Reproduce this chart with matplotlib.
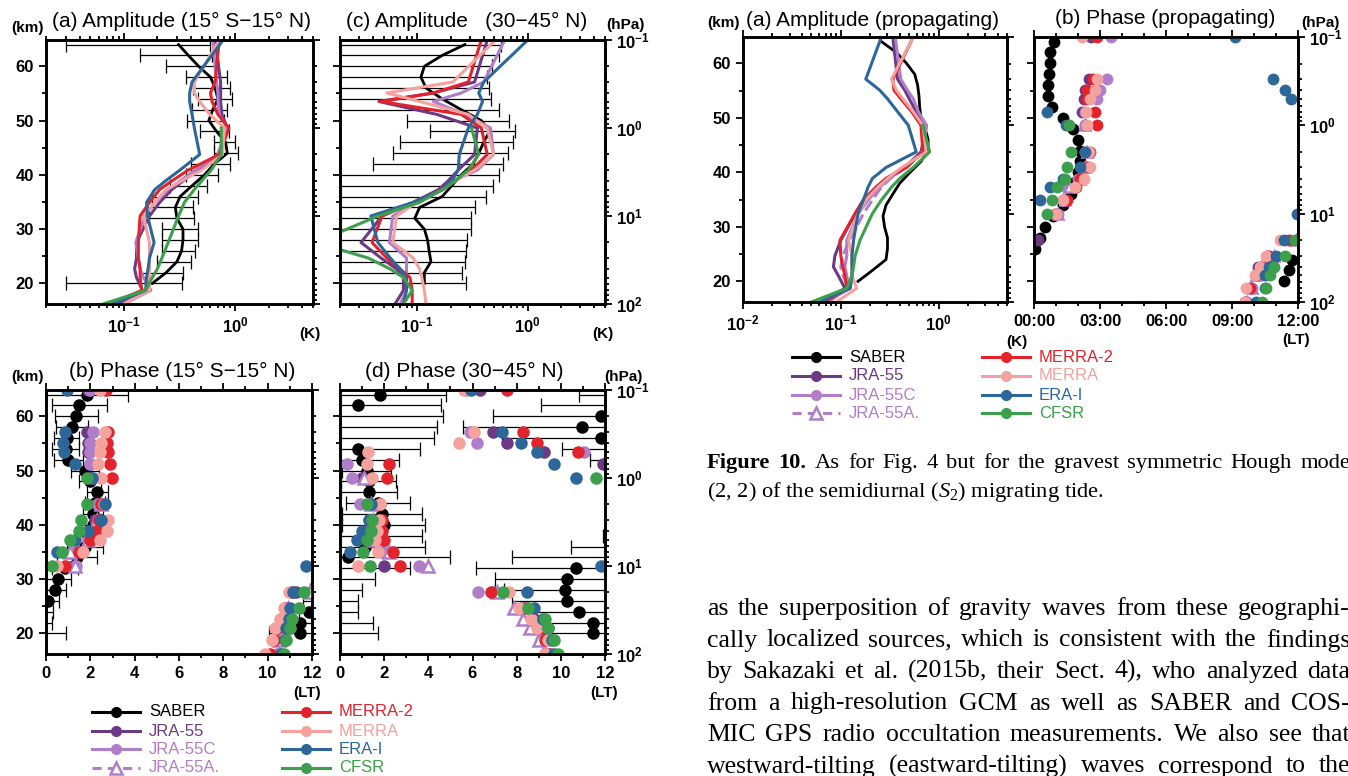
import numpy as np
import matplotlib
matplotlib.use("Agg")
import matplotlib.pyplot as plt
from matplotlib.ticker import LogLocator, NullFormatter, FuncFormatter, MultipleLocator

plt.rcParams["font.family"] = ["Liberation Sans", "DejaVu Sans"]
plt.rcParams["mathtext.fontset"] = "custom"
plt.rcParams["mathtext.rm"] = "Liberation Sans"
plt.rcParams["mathtext.bf"] = "Liberation Sans:bold"
plt.rcParams["mathtext.it"] = "Liberation Serif:italic"

W, HPX = 1348, 776
H_SCALE = 7.04  # km, scale height used for log-pressure altitude

# reanalysis pressure levels (hPa), bottom to top
p_lev = np.array([100, 70, 50, 40, 30, 20, 10, 7, 5, 4, 3, 2, 1, 0.7, 0.5, 0.4, 0.3, 0.1])
z_lev = H_SCALE * np.log(1000.0 / p_lev)
saber_km = np.array([20, 22, 24, 26, 28, 30, 32, 34, 36, 38, 40, 42,
                     44, 46, 48, 50, 52, 54, 56, 58, 60, 62, 64])

names = ["JRA-55", "JRA-55C", "JRA-55A.", "MERRA-2", "MERRA", "ERA-I", "CFSR"]
colors = {"SABER": "black", "JRA-55": "#6c3a85", "JRA-55C": "#b07dc9",
          "JRA-55A.": "#b07dc9", "MERRA-2": "#e3232b", "MERRA": "#f5a19e",
          "ERA-I": "#2d6799", "CFSR": "#3b9f4b"}
nan = np.nan

# ---- (a) amplitude 15S-15N (K)
amp_eq = {
    "JRA-55":  [0.088, 0.147, 0.13, 0.125, 0.13, 0.13, 0.17, 0.21, 0.27, 0.34, 0.46, 0.70, 0.85, 0.76, 0.74, 0.74, 0.74, 0.66],
    "JRA-55C": [0.10, 0.175, 0.15, 0.14, 0.135, 0.128, 0.155, 0.19, 0.25, 0.32, 0.44, 0.70, 0.85, 0.72, 0.70, 0.70, 0.68, 0.63],
    "MERRA-2": [0.075, 0.145, 0.14, 0.14, 0.135, 0.135, 0.14, 0.17, 0.21, 0.27, 0.38, 0.72, 0.88, 0.70, 0.62, 0.60, 0.66, 0.72],
    "MERRA":   [0.10, 0.17, 0.17, 0.17, 0.17, 0.17, 0.15, 0.19, 0.24, 0.33, 0.50, 0.77, 0.80, 0.59, 0.48, 0.43, 0.43, 0.72],
    "ERA-I":   [0.08, 0.157, 0.16, 0.165, 0.17, 0.187, 0.163, 0.16, 0.19, 0.236, 0.32, 0.48, 0.43, 0.41, 0.39, 0.39, 0.41, 0.78],
    "CFSR":    [0.065, 0.157, 0.18, 0.20, 0.22, 0.25, 0.31, 0.35, 0.43, 0.50, 0.61, 0.75, 0.75, nan, nan, nan, nan, nan],
}
saber_amp_eq = [0.18, 0.24, 0.30, 0.33, 0.34, 0.34, 0.30, 0.29, 0.32, 0.41, 0.53, 0.65,
                0.85, 0.82, 0.68, 0.58, 0.63, 0.70, 0.66, 0.60, 0.47, 0.38, 0.31]
saber_amp_eq_err = [0.15, 0.10, 0.10, 0.11, 0.12, 0.12, 0.13, 0.13, 0.14, 0.15, 0.17, 0.25,
                    0.20, 0.17, 0.20, 0.21, 0.22, 0.24, 0.24, 0.24, 0.23, 0.24, 0.28]

# ---- (c) amplitude 30-45N (K)
amp_mid = {
    "JRA-55":  [0.063, 0.075, 0.075, 0.065, 0.047, 0.031, 0.048, 0.092, 0.156, 0.19, 0.235, 0.33, 0.35, 0.15, 0.045, 0.14, 0.33, 0.43],
    "JRA-55C": [0.07, 0.08, 0.08, 0.08, 0.08, 0.056, 0.06, 0.10, 0.17, 0.21, 0.35, 0.49, 0.46, 0.27, 0.14, 0.25, 0.40, 0.62],
    "MERRA-2": [0.09, 0.09, 0.086, 0.07, 0.053, 0.039, 0.048, 0.092, 0.168, 0.22, 0.31, 0.43, 0.38, 0.25, 0.047, 0.14, 0.29, 0.38],
    "MERRA":   [0.12, 0.116, 0.11, 0.105, 0.092, 0.06, 0.065, 0.098, 0.17, 0.22, 0.33, 0.49, 0.43, 0.29, 0.105, 0.053, 0.21, 0.51],
    "ERA-I":   [0.075, 0.08, 0.08, 0.07, 0.057, 0.044, 0.038, 0.092, 0.17, 0.205, 0.235, 0.24, 0.29, 0.35, 0.39, 0.36, 0.40, 1.0],
    "CFSR":    [0.075, 0.09, 0.075, 0.057, 0.036, 0.012, 0.044, 0.105, 0.17, 0.22, 0.29, 0.36, 0.31, nan, nan, nan, nan, nan],
}
saber_amp_mid = [0.116, 0.116, 0.133, 0.128, 0.124, 0.116, 0.095, 0.105, 0.168, 0.205, 0.25, 0.32,
                 0.36, 0.40, 0.45, 0.38, 0.25, 0.168, 0.12, 0.108, 0.116, 0.168, 0.27]
saber_amp_mid_err = [0.16, 0.14, 0.14, 0.15, 0.16, 0.19, 0.21, 0.23, 0.25, 0.28, 0.30, 0.28,
                     0.30, 0.33, 0.32, 0.30, 0.30, 0.30, 0.33, 0.32, 0.36, 0.38, 0.30]

# ---- (b) phase 15S-15N (LT)
phase_eq = {
    "JRA-55":   [10.5, 10.6, 10.7, 10.8, 10.9, 11.3, 1.2, 1.6, 2.0, 2.1, 2.2, 2.3, 2.0, 2.0, 1.9, 1.9, 1.87, 1.9],
    "JRA-55C":  [10.4, 10.5, 10.6, 10.7, 10.8, 11.9, 1.36, 1.2, 1.9, 2.1, 2.36, 2.36, 2.1, 2.0, 2.0, 2.0, 2.14, 2.0],
    "JRA-55A.": [10.5, 10.5, 10.7, 10.8, 10.9, 11.9, 1.3, 1.1, 1.9, 2.1, 2.3, 2.5, nan, nan, nan, nan, nan, nan],
    "MERRA-2":  [10.12, 10.27, 10.4, 10.6, 10.8, 11.1, 0.86, 1.5, 2.0, 2.3, 2.4, 2.5, 2.97, 2.9, 2.8, 2.77, 2.8, 2.7],
    "MERRA":    [9.9, 10.2, 10.35, 10.57, 10.72, 10.95, 0.48, 1.68, 2.44, 2.74, 2.8, 2.6, 2.5, 2.36, 2.44, 2.5, 2.67, 2.44],
    "ERA-I":    [10.6, 10.8, 10.84, 10.95, 11.0, 11.14, 11.75, 0.51, 1.3, 1.9, 2.5, 2.67, 2.06, 1.3, 0.81, 0.78, 0.86, 0.93],
    "CFSR":     [10.72, 10.84, 11.0, 11.1, 11.4, 11.63, 0.26, 0.7, 1.08, 1.5, 1.6, 1.87, 1.87, nan, nan, nan, nan, nan],
}
saber_phase_eq = [11.48, 11.48, 11.85, 0.1, 0.4, 0.56, 0.85, 1.38, 1.76, 1.9, 2.1, 2.14,
                  2.2, 2.32, 2.0, 1.76, 1.0, 0.88, 0.93, 1.16, 1.36, 1.5, 1.87]
saber_phase_eq_err = [1.4, 0.77, 0.45, 0.5, 0.5, 0.55, 0.6, 0.9, 0.8, 0.6, 0.5, 0.45,
                      0.45, 0.47, 0.5, 0.65, 0.65, 0.6, 0.55, 0.73, 0.97, 1.25, 1.85]

# ---- (d) phase 30-45N (LT)
phase_mid = {
    "JRA-55":   [9.3, 9.2, 9.0, 8.7, 8.3, 7.0, 2.0, 1.94, 1.5, 1.4, 1.5, 1.3, 1.0, 11.9, 9.24, 7.57, 6.94, 6.36],
    "JRA-55C":  [9.4, 9.1, 8.9, 8.7, 8.2, 6.24, 3.56, 2.1, 1.4, 1.2, 1.3, 0.9, 0.53, 0.3, 11.06, 6.2, 5.9, 5.7],
    "JRA-55A.": [9.2, 9.0, 8.6, 8.3, 7.9, 7.1, 4.0, 2.2, 1.5, 1.3, 1.5, 1.4, 1.1, nan, nan, nan, nan, nan],
    "MERRA-2":  [9.5, 9.3, 9.1, 8.8, 8.4, 6.85, 2.7, 2.42, 1.97, 1.9, 1.9, 1.8, 2.15, 2.24, 10.76, 8.94, 8.3, 7.55],
    "MERRA":    [9.3, 9.4, 8.94, 8.64, 8.1, 7.65, 0.83, 1.7, 1.6, 1.67, 1.75, 1.79, 1.44, 1.2, 1.29, 5.38, 6.06, 5.6],
    "ERA-I":    [9.67, 9.6, 9.4, 9.17, 8.8, 8.48, 11.8, 0.45, 0.76, 0.98, 1.3, 1.4, 10.7, 9.67, 8.9, 8.2, 7.35, 5.94],
    "CFSR":     [9.85, 9.7, 9.44, 9.3, 8.5, 7.38, 1.36, 1.06, 1.24, 1.4, 1.44, 1.24, 11.6, nan, nan, nan, nan, nan],
}
saber_phase_mid = [11.44, 11.44, 10.83, 10.3, 10.2, 10.3, 10.68, 0.38, 1.14, 1.8, 1.97, 1.9,
                   1.7, 1.33, 1.3, 1.2, 0.98, 0.83, 11.8, 10.98, 11.8, 0.83, 1.8]
saber_phase_mid_err = [2.27, 2.04, 1.97, 2.53, 2.78, 3.3, 4.5, 4.6, 2.7, 1.9, 1.9, 1.8,
                       1.45, 1.27, 1.25, 1.1, 1.67, 2.77, 4.47, 5.41, 4.87, 3.75, 3.0]

# ---- Fig. 10 (a) amplitude, propagating (K)
amp_prop = {
    "JRA-55":   [0.064, 0.11, 0.094, 0.084, 0.087, 0.10, 0.14, 0.17, 0.23, 0.29, 0.45, 0.66, 0.75, 0.59, 0.50, 0.45, 0.38, 0.34],
    "JRA-55C":  [0.074, 0.12, 0.115, 0.11, 0.115, 0.115, 0.15, 0.19, 0.25, 0.31, 0.46, 0.70, 0.75, 0.62, 0.55, 0.48, 0.41, 0.36],
    "JRA-55A.": [0.07, 0.124, 0.105, 0.10, 0.105, 0.122, 0.17, 0.21, 0.26, 0.32, 0.46, 0.68, 0.74, nan, nan, nan, nan, nan],
    "MERRA-2":  [0.069, 0.115, 0.11, 0.105, 0.10, 0.098, 0.14, 0.17, 0.23, 0.29, 0.47, 0.69, 0.66, 0.53, 0.41, 0.35, 0.34, 0.55],
    "MERRA":    [0.09, 0.145, 0.13, 0.13, 0.13, 0.12, 0.15, 0.18, 0.24, 0.30, 0.42, 0.75, 0.69, 0.55, 0.43, 0.37, 0.33, 0.55],
    "ERA-I":    [0.061, 0.125, 0.13, 0.13, 0.13, 0.135, 0.15, 0.17, 0.19, 0.21, 0.29, 0.59, 0.49, 0.38, 0.30, 0.25, 0.18, 0.26],
    "CFSR":     [0.05, 0.115, 0.13, 0.135, 0.14, 0.157, 0.21, 0.26, 0.33, 0.40, 0.55, 0.81, 0.69, nan, nan, nan, nan, nan],
}
saber_amp_prop = [0.15, 0.21, 0.29, 0.30, 0.30, 0.28, 0.27, 0.29, 0.34, 0.40, 0.51, 0.66,
                  0.78, 0.78, 0.73, 0.66, 0.64, 0.63, 0.61, 0.57, 0.47, 0.37, 0.26]

# ---- Fig. 10 (b) phase, propagating (LT)
phase_prop = {
    "JRA-55":   [9.6, 9.8, 10.2, 10.2, 10.6, 0.18, 1.0, 1.3, 1.5, 2.0, 2.3, 2.4, 2.3, 2.2, 2.26, 2.3, 2.5, 2.6],
    "JRA-55C":  [9.7, 9.9, 10.1, 10.3, 10.6, 11.95, 1.09, 1.3, 1.47, 2.0, 2.4, 2.3, 2.3, 2.3, 2.86, 3.0, 3.32, 3.5],
    "JRA-55A.": [9.7, 9.9, 10.1, 10.3, 10.9, 11.9, 1.1, 1.4, 1.6, 2.1, 2.3, 2.4, 2.3, nan, nan, nan, nan, nan],
    "MERRA-2":  [9.6, 9.83, 10.1, 10.4, 10.7, 11.6, 0.94, 1.5, 1.9, 2.08, 2.45, 2.56, 2.86, 2.76, 2.4, 2.4, 2.7, 2.86],
    "MERRA":    [9.58, 9.62, 10.03, 10.26, 10.56, 11.17, 1.0, 1.32, 1.88, 2.26, 2.53, 2.5, 2.41, 2.35, 2.56, 2.76, 2.86, 2.2],
    "ERA-I":    [10.1, 10.48, 10.48, 10.68, 10.98, 11.35, 11.95, 0.29, 0.71, 1.32, 2.1, 2.3, 1.47, 0.59, 11.7, 11.4, 10.86, 9.15],
    "CFSR":     [10.36, 10.56, 10.71, 10.9, 11.4, 11.85, 0.59, 0.82, 1.05, 1.4, 1.5, 1.7, 1.58, nan, nan, nan, nan, nan],
}
saber_phase_prop = [11.36, 11.6, 11.74, 0.06, 0.29, 0.48, 0.85, 1.3, 1.67, 1.77, 2.0, 2.08,
                    2.08, 2.0, 1.77, 1.32, 0.83, 0.65, 0.65, 0.68, 0.74, 0.74, 0.91]

body_lines = [
    "as the superposition of gravity waves from these geographi-",
    "cally localized sources, which is consistent with the findings",
    "by Sakazaki et al. (2015b, their Sect. 4), who analyzed data",
    "from a high-resolution GCM as well as SABER and COS-",
    "MIC GPS radio occultation measurements. We also see that",
    "westward-tilting (eastward-tilting) waves correspond to the",
]

fig = plt.figure(figsize=(W / 100, HPX / 100), dpi=100)


def box(x0, y0, x1, y1):
    return [x0 / W, 1 - y1 / HPX, (x1 - x0) / W, (y1 - y0) / HPX]


def bold_pow(v, pos):
    return r"$\mathbf{10^{%d}}$" % round(np.log10(v))


def setup(ax, kind, left_lab, right_lab, xmin=0.02):
    ax.set_ylim(z_lev[0], z_lev[-1])
    ticks = [20, 30, 40, 50, 60]
    ax.set_yticks(ticks, [str(t) for t in ticks] if left_lab else [],
                  fontsize=12, fontweight="bold")
    ax.set_yticks([25, 35, 45, 55], minor=True)
    if kind == "amp":
        ax.set_xscale("log")
        ax.set_xlim(xmin, 5)
        ax.xaxis.set_major_locator(LogLocator(base=10))
        ax.xaxis.set_minor_locator(LogLocator(base=10, subs=np.arange(2, 10)))
        ax.xaxis.set_major_formatter(FuncFormatter(bold_pow))
        ax.xaxis.set_minor_formatter(NullFormatter())
        ax.tick_params(axis="x", labelsize=12, pad=3)
    elif kind == "lt":
        ax.set_xlim(0, 12)
        xt = [0, 3, 6, 9, 12]
        ax.set_xticks(xt, ["%02d:00" % t for t in xt], fontsize=12, fontweight="bold")
        ax.xaxis.set_minor_locator(MultipleLocator(1))
    else:
        ax.set_xlim(0, 12)
        xt = [0, 2, 4, 6, 8, 10, 12]
        ax.set_xticks(xt, [str(t) for t in xt], fontsize=12, fontweight="bold")
        ax.xaxis.set_minor_locator(MultipleLocator(1))
    ax.tick_params(which="both", direction="out", width=1.3, top=True, right=False)
    ax.tick_params(which="major", length=5)
    ax.tick_params(which="minor", length=3)
    for s in ax.spines.values():
        s.set_linewidth(1.9)
    ax2 = ax.twinx()
    ax2.set_yscale("log")
    ax2.set_ylim(100, 0.1)
    ax2.yaxis.set_major_locator(LogLocator(base=10))
    ax2.yaxis.set_minor_locator(LogLocator(base=10, subs=np.arange(2, 10)))
    ax2.yaxis.set_minor_formatter(NullFormatter())
    if right_lab:
        ax2.yaxis.set_major_formatter(FuncFormatter(bold_pow))
    else:
        ax2.yaxis.set_major_formatter(NullFormatter())
    ax2.tick_params(which="both", direction="out", width=1.3, labelsize=12, pad=3)
    ax2.tick_params(which="major", length=5)
    ax2.tick_params(which="minor", length=3)
    for s in ax2.spines.values():
        s.set_linewidth(1.9)


def draw_amp(ax, data, saber, err=None):
    if err is not None:
        ax.errorbar(saber, saber_km, xerr=err, fmt="none", ecolor="black",
                    elinewidth=0.9, capsize=5, capthick=0.9, zorder=1)
    ax.plot(saber, saber_km, color="black", lw=2, zorder=2)
    for name in names:
        if name in data:
            ax.plot(data[name], z_lev, color=colors[name], lw=2.2,
                    ls="--" if name == "JRA-55A." else "-", zorder=3)


def draw_phase(ax, data, saber, err=None, ms=8):
    if err is not None:
        # bars that cross 00/12 LT wrap round to the other side
        for shift in (-12, 0, 12):
            ax.errorbar(np.array(saber) + shift, saber_km, xerr=err, fmt="none",
                        ecolor="black", elinewidth=0.9, capsize=5, capthick=0.9, zorder=1)
    ax.plot(saber, saber_km, "o", color="black", ms=ms, zorder=2)
    for name in names:
        if name not in data:
            continue
        if name == "JRA-55A.":
            ax.plot(data[name], z_lev, "^", mfc="white", mec=colors[name], mew=1.8,
                    ms=ms, zorder=3)
        else:
            ax.plot(data[name], z_lev, "o", color=colors[name], ms=ms, zorder=3)


ax_a = fig.add_axes(box(46, 40, 313, 304))
setup(ax_a, "amp", True, False)
draw_amp(ax_a, amp_eq, saber_amp_eq, saber_amp_eq_err)

ax_c = fig.add_axes(box(340, 40, 605, 304))
setup(ax_c, "amp", False, True)
draw_amp(ax_c, amp_mid, saber_amp_mid, saber_amp_mid_err)

ax_b = fig.add_axes(box(46, 390, 312, 654))
setup(ax_b, "phase", True, False)
draw_phase(ax_b, phase_eq, saber_phase_eq, saber_phase_eq_err)

ax_d = fig.add_axes(box(340, 390, 605, 654))
setup(ax_d, "phase", False, True)
draw_phase(ax_d, phase_mid, saber_phase_mid, saber_phase_mid_err)

ax_pa = fig.add_axes(box(743, 37, 1007, 302))
setup(ax_pa, "amp", True, False, xmin=0.01)
draw_amp(ax_pa, amp_prop, saber_amp_prop)

ax_pb = fig.add_axes(box(1034, 37, 1298, 302))
setup(ax_pb, "lt", False, True)
draw_phase(ax_pb, phase_prop, saber_phase_prop, ms=7.5)

# overlay in pixel coordinates for the free text and the legends
ov = fig.add_axes([0, 0, 1, 1])
ov.set_xlim(0, W)
ov.set_ylim(HPX, 0)
ov.axis("off")
ov.patch.set_alpha(0)

titles = [(181, 21, "(a) Amplitude (15° S−15° N)"), (467, 21, "(c) Amplitude   (30−45° N)"),
          (182, 371, "(b) Phase (15° S−15° N)"), (464, 371, "(d) Phase (30−45° N)"),
          (873, 20, "(a) Amplitude (propagating)"), (1165, 19, "(b) Phase (propagating)")]
for x, y, s in titles:
    ov.text(x, y, s, fontsize=15, ha="center", va="center")

units = [(27, 28, "(km)"), (28, 377, "(km)"), (724, 23, "(km)"),
         (625, 25, "(hPa)"), (623, 377, "(hPa)"), (1320, 23, "(hPa)"),
         (310, 334, "(K)"), (603, 334, "(K)"), (1017, 342, "(K)"),
         (307, 693, "(LT)"), (604, 693, "(LT)"), (1296, 340, "(LT)")]
for x, y, s in units:
    ov.text(x, y, s, fontsize=11, fontweight="bold", ha="center", va="center")


def legend(x_cols, rows, size):
    entries = ["SABER"] + names
    for i, name in enumerate(entries):
        col, row = divmod(i, 4)
        x0 = x_cols[col]
        y = rows[row]
        c = colors[name]
        if name == "JRA-55A.":
            ov.plot([x0, x0 + 48], [y, y], color=c, lw=2.2, ls=(0, (3, 2)))
            ov.plot([x0 + 24], [y], "^", mfc="white", mec=c, mew=1.8, ms=8)
        else:
            ov.plot([x0, x0 + 48], [y, y], color=c, lw=2.2)
            ov.plot([x0 + 24], [y], "o", color=c, ms=7)
        ov.text(x0 + 57, y, name, color=c, fontsize=size, va="center", ha="left")


legend([92, 282], [712, 731, 749, 768], 12)
legend([792, 982], [357, 376, 395, 413], 12)

SERIF = "Liberation Serif"


def justify(line, y, size, n_bold=0, x0=707, x1=1350):
    r = fig.canvas.get_renderer()
    words = line.split(" ")
    texts = [ov.text(0, y, w, fontsize=size, family=SERIF, va="baseline",
                     fontweight="bold" if i < n_bold else "normal")
             for i, w in enumerate(words)]
    widths = [t.get_window_extent(r).width for t in texts]
    gap = (x1 - x0 - sum(widths)) / (len(texts) - 1)
    x = x0
    for t, w in zip(texts, widths):
        t.set_x(x)
        x += w + gap


justify("Figure 10. As for Fig. 4 but for the gravest symmetric Hough mode", 468, 16.2, n_bold=2)
ov.text(707, 497, r"(2, 2) of the semidiurnal ($\mathit{S}_{\mathregular{2}}$) migrating tide.",
        fontsize=16.2, family=SERIF, va="baseline")
for i, line in enumerate(body_lines):
    justify(line, 615 + 31.5 * i, 18.5)

fig.savefig("out.png", dpi=100)
